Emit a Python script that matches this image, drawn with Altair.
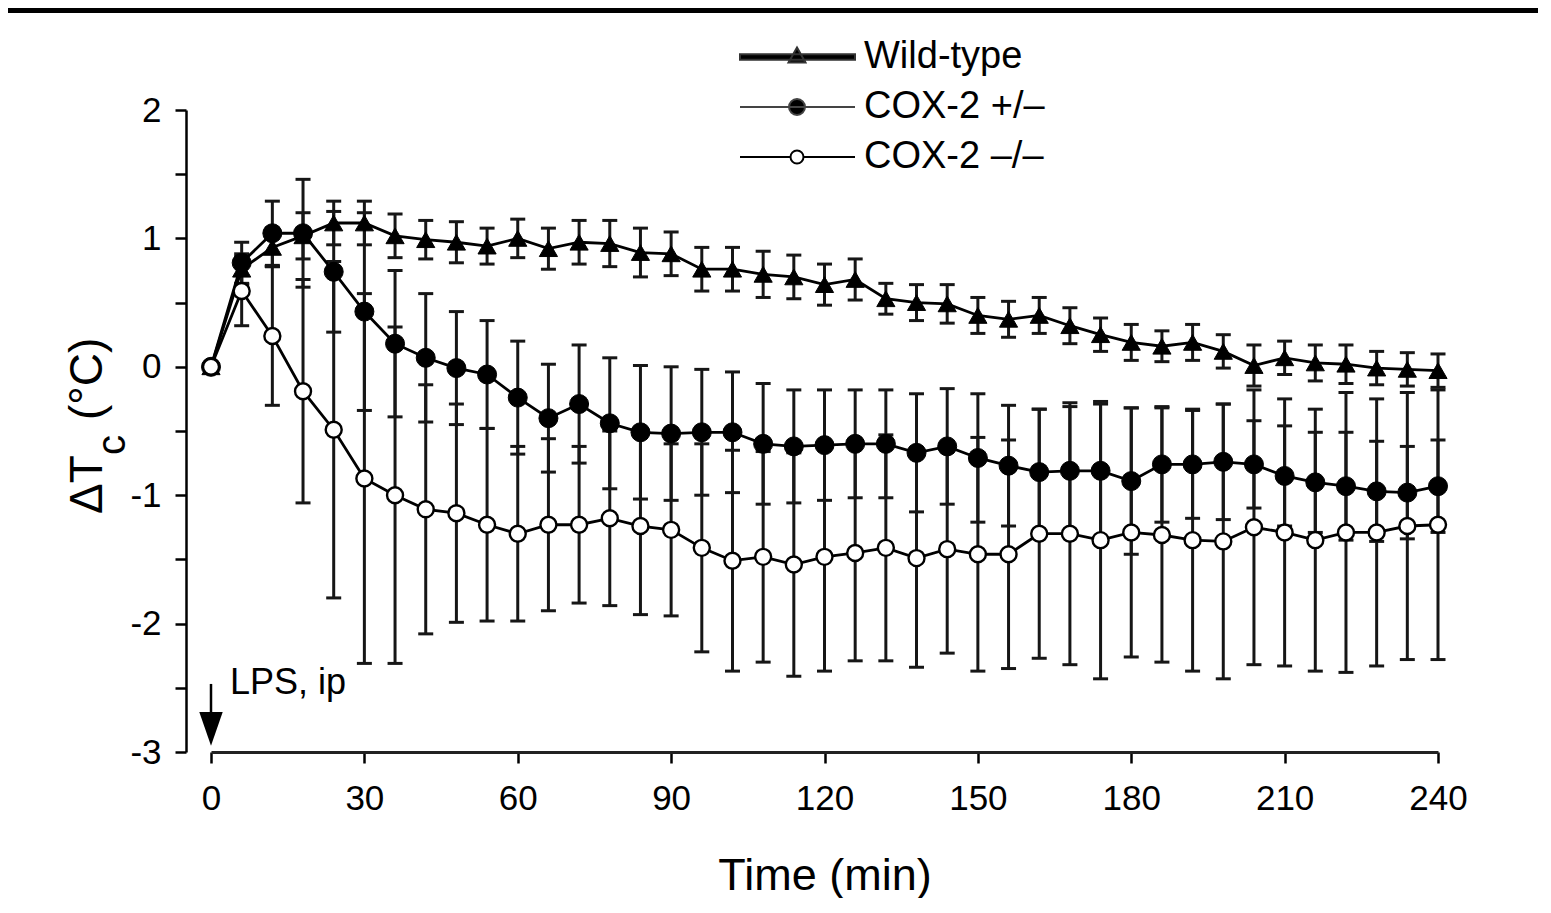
import altair as alt
import pandas as pd

# ---------------- data ----------------
times = list(range(0, 241, 6))

wt_mean = [0.00, 0.76, 0.93, 1.02, 1.12, 1.12, 1.02, 0.99, 0.97, 0.94, 1.00,
           0.92, 0.97, 0.96, 0.89, 0.88, 0.76, 0.76, 0.72, 0.70, 0.64,
           0.68, 0.53, 0.50, 0.49, 0.40, 0.37, 0.40, 0.32, 0.25, 0.19,
           0.16, 0.19, 0.12, 0.01, 0.07, 0.03, 0.02, -0.01, -0.02, -0.03]
wt_err = [0.00, 0.12, 0.15, 0.18, 0.17, 0.17, 0.17, 0.15, 0.16, 0.14, 0.15,
          0.16, 0.17, 0.18, 0.19, 0.17, 0.17, 0.17, 0.18, 0.17, 0.16,
          0.16, 0.12, 0.14, 0.15, 0.14, 0.14, 0.14, 0.14, 0.13, 0.14,
          0.12, 0.14, 0.13, 0.16, 0.13, 0.14, 0.15, 0.13, 0.13, 0.13]

het_mean = [0.00, 0.81, 1.04, 1.04, 0.74, 0.43, 0.18, 0.07, -0.01, -0.06, -0.24,
            -0.40, -0.29, -0.44, -0.51, -0.52, -0.51, -0.51, -0.60, -0.62, -0.61,
            -0.60, -0.60, -0.67, -0.62, -0.71, -0.77, -0.82, -0.81, -0.81, -0.89,
            -0.76, -0.76, -0.74, -0.76, -0.85, -0.90, -0.93, -0.97, -0.98, -0.93]
het_err = [0.00, 0.16, 0.25, 0.42, 0.47, 0.77, 0.57, 0.50, 0.44, 0.42, 0.44,
           0.42, 0.46, 0.51, 0.52, 0.52, 0.49, 0.47, 0.47, 0.44, 0.43,
           0.42, 0.42, 0.46, 0.45, 0.50, 0.47, 0.49, 0.50, 0.52, 0.57,
           0.45, 0.42, 0.45, 0.34, 0.39, 0.39, 0.42, 0.39, 0.36, 0.36]

ko_mean = [0.00, 0.59, 0.24, -0.19, -0.49, -0.87, -1.00, -1.11, -1.14, -1.23, -1.30,
           -1.23, -1.23, -1.18, -1.24, -1.27, -1.41, -1.51, -1.48, -1.54, -1.48,
           -1.45, -1.41, -1.49, -1.42, -1.46, -1.46, -1.30, -1.30, -1.35, -1.29,
           -1.31, -1.35, -1.36, -1.25, -1.29, -1.35, -1.29, -1.29, -1.24, -1.23]
ko_err = [0.00, 0.27, 0.54, 0.87, 1.31, 1.44, 1.31, 0.97, 0.85, 0.75, 0.68,
          0.67, 0.61, 0.68, 0.69, 0.67, 0.81, 0.86, 0.82, 0.87, 0.89,
          0.84, 0.88, 0.85, 0.81, 0.91, 0.89, 0.97, 1.02, 1.08, 0.97,
          0.99, 1.02, 1.07, 1.07, 1.04, 1.02, 1.09, 1.04, 1.04, 1.05]

series_names = ["Wild-type", "COX-2 +/\u2013", "COX-2 \u2013/\u2013"]
x_ticks = [0, 30, 60, 90, 120, 150, 180, 210, 240]
y_ticks = [-3, -2.5, -2, -1.5, -1, -0.5, 0, 0.5, 1, 1.5, 2]

rows = []
for name, means, errs in zip(series_names, [wt_mean, het_mean, ko_mean],
                             [wt_err, het_err, ko_err]):
    for t, m, e in zip(times, means, errs):
        rows.append({"series": name, "t": t, "mean": m, "err": e,
                     "lo": m - e, "hi": m + e})
df = pd.DataFrame(rows)
bars = df[df["err"] > 0]

FONT = "Liberation Sans"
BAR = "#161616"

xscale = alt.Scale(domain=[0, 240], nice=False, zero=False)
yscale = alt.Scale(domain=[-3, 2], nice=False, zero=False)
xaxis = alt.Axis(values=x_ticks, title="Time (min)", grid=False, labelFlush=False,
                 labelFontSize=35, labelFont=FONT, labelColor="black",
                 labelPadding=18, tickSize=11, tickWidth=2.5, tickColor="black",
                 domainColor="#222222", domainWidth=3,
                 titleFontSize=45, titleFont=FONT, titleFontWeight="normal",
                 titleColor="black", titleY=137, titleBaseline="alphabetic")
yaxis = alt.Axis(values=y_ticks, title=None, grid=False, offset=25, labelFlush=False,
                 labelExpr="datum.value % 1 == 0 ? '' + datum.value : ''",
                 labelFontSize=35, labelFont=FONT, labelColor="black",
                 labelPadding=14, tickSize=11, tickWidth=2.5, tickColor="black",
                 domainColor="black", domainWidth=2.5)


def X():
    return alt.X("t:Q", scale=xscale, axis=xaxis)


def Y(field):
    return alt.Y(f"{field}:Q", scale=yscale, axis=yaxis)


rules = alt.Chart(bars).mark_rule(color=BAR, strokeWidth=3).encode(
    x=X(), y=Y("lo"), y2="hi:Q")
caps_hi = alt.Chart(bars).mark_tick(orient="horizontal", size=15, thickness=3,
                                    color=BAR, opacity=1).encode(x=X(), y=Y("hi"))
caps_lo = alt.Chart(bars).mark_tick(orient="horizontal", size=15, thickness=3,
                                    color=BAR, opacity=1).encode(x=X(), y=Y("lo"))

lines = alt.Chart(df).mark_line(color="black", strokeWidth=2.8).encode(
    x=X(), y=Y("mean"), detail="series:N")

pts_wt = alt.Chart(df[df["series"] == series_names[0]]).mark_point(
    shape="triangle-up", filled=True, fill="black", stroke="black", strokeWidth=1,
    size=330, opacity=1).encode(x=X(), y=Y("mean"))
pts_het = alt.Chart(df[df["series"] == series_names[1]]).mark_point(
    shape="circle", filled=True, fill="black", stroke="black", strokeWidth=1,
    size=361, opacity=1).encode(x=X(), y=Y("mean"))
pts_ko = alt.Chart(df[df["series"] == series_names[2]]).mark_point(
    shape="circle", filled=True, fill="white", stroke="black", strokeWidth=2.4,
    size=256, opacity=1).encode(x=X(), y=Y("mean"))

# ---- legend (line + marker symbols) built from a real Vega legend ----
legend_paths = [
    "M-10.5,-0.27H1V0.27H-10.5Z M-4.8,-0.95L-3.95,0.55L-5.65,0.55Z",
    "M-10.5,0H1 M-4.0,0A0.8,0.8 0 1,1 -5.6,0A0.8,0.8 0 1,1 -4.0,0Z",
    "M-10.5,0H-5.45 M-4.15,0H1 M-4.15,0A0.65,0.65 0 1,1 -5.45,0A0.65,0.65 0 1,1 -4.15,0Z",
]
leg = alt.Legend(orient="none", legendX=615, legendY=-72, title=None,
                 labelFontSize=38, labelFont=FONT, labelColor="black",
                 labelLimit=500, labelOffset=0, symbolSize=400,
                 symbolStrokeWidth=2, symbolStrokeColor="black",
                 rowPadding=12, padding=0)
legend_layer = alt.Chart(df).transform_filter("false").mark_point(
    filled=True, opacity=1).encode(
    x=X(), y=Y("mean"),
    shape=alt.Shape("series:N", scale=alt.Scale(domain=series_names, range=legend_paths), legend=leg),
    fill=alt.Fill("series:N", scale=alt.Scale(domain=series_names, range=["black", "black", "white"]), legend=leg),
    stroke=alt.Stroke("series:N", scale=alt.Scale(domain=series_names, range=["#333333", "#444444", "black"]), legend=leg),
)

# ---- LPS injection annotation ----
lps = pd.DataFrame({"t": [0], "top": [-2.47], "bot": [-2.80], "head": [-2.82],
                    "ty": [-2.547], "label": ["LPS, ip"]})
arrow_shaft = alt.Chart(lps).mark_rule(color="black", strokeWidth=2.5).encode(
    x=X(), y=Y("top"), y2="bot:Q")
arrow_head = alt.Chart(lps).mark_point(
    shape="M-0.9,-1.3L0.9,-1.3L0,1.3Z", filled=True, fill="black",
    size=676, opacity=1).encode(x=X(), y=Y("head"))
lps_text = alt.Chart(lps).mark_text(
    align="left", baseline="alphabetic", dx=19, fontSize=36, font=FONT,
    color="black").encode(x=X(), y=Y("ty"), text="label:N")

# ---- y-axis title with subscript ----
one = pd.DataFrame({"k": [0]})
yt1 = alt.Chart(one).mark_text(angle=270, align="left", baseline="alphabetic",
                               fontSize=46, font=FONT, color="black").encode(
    x=alt.value(-109), y=alt.value(404), text=alt.value("\u0394T"))
yt2 = alt.Chart(one).mark_text(angle=270, align="left", baseline="alphabetic",
                               fontSize=40, font=FONT, color="black").encode(
    x=alt.value(-86), y=alt.value(345), text=alt.value("c"))
yt3 = alt.Chart(one).mark_text(angle=270, align="left", baseline="alphabetic",
                               fontSize=46, font=FONT, color="black").encode(
    x=alt.value(-109), y=alt.value(310), text=alt.value("(\u00b0C)"))

# ---- dark frame strip along the top edge of the figure ----
frame_top = alt.Chart(one).mark_rule(color="black", strokeWidth=5).encode(
    x=alt.value(-203), x2=alt.value(1327), y=alt.value(-99.5))

chart = alt.layer(
    frame_top,
    rules, caps_hi, caps_lo, lines, pts_wt, pts_het, pts_ko, legend_layer,
    arrow_shaft, arrow_head, lps_text, yt1, yt2, yt3
).properties(
    width=1227, height=642,
    autosize=alt.AutoSizeParams(type="none"),
    padding={"left": 203, "top": 102, "right": 100, "bottom": 146},
    background="white",
).configure_view(stroke=None)

chart.save("out.html", embed_options={"renderer": "svg", "actions": False})
